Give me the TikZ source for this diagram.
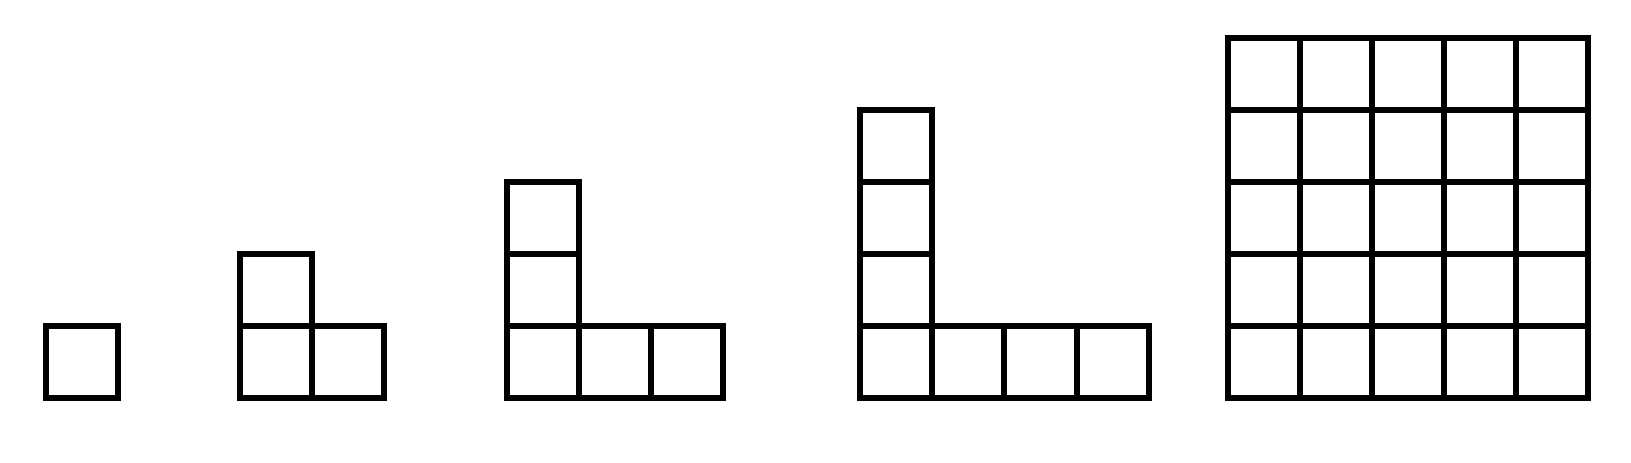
\documentclass[tikz,border=0pt]{standalone}
\begin{document}
\begin{tikzpicture}[x=1pt,y=-1pt,cellline/.style={line width=6pt,draw=black,line join=miter}]
\useasboundingbox (0,0) rectangle (1631,463);
\def\c{72.07}
\def\base{398.4}
% figure 1
\draw[cellline] (45.7,\base) rectangle ++(\c,-\c);
% figures 2-4: L shapes
\foreach \x/\n in {240.3/2,507/3,860.3/4}{
  \foreach \i in {1,...,\n}{
    \draw[cellline] ({\x+(\i-1)*\c},\base) rectangle ++(\c,-\c);
  }
  \foreach \j in {2,...,\n}{
    \draw[cellline] (\x,{\base-(\j-1)*\c}) rectangle ++(\c,-\c);
  }
}
% figure 5: 5x5 grid
\foreach \i in {0,...,4}{
  \foreach \j in {0,...,4}{
    \draw[cellline] ({1227.5+\i*\c},{\base-\j*\c}) rectangle ++(\c,-\c);
  }
}
\end{tikzpicture}
\end{document}
